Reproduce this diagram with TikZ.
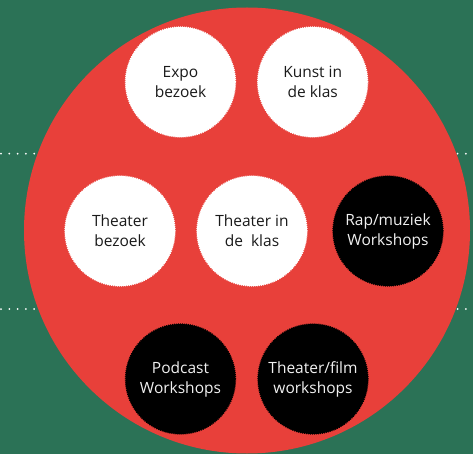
\documentclass[tikz,border=0pt]{standalone}
\usepackage{fontspec}
\setmainfont{Open Sans}
\definecolor{bggreen}{HTML}{2B7256}
\definecolor{bigred}{HTML}{E8403A}
\definecolor{darktext}{HTML}{1A1A1A}
\definecolor{lighttext}{HTML}{F0F0F0}
\begin{document}
\begin{tikzpicture}[x=1pt,y=-1pt,
  bubble/.style={circle, minimum size=110pt, inner sep=0pt, align=center,
    font=\fontsize{15.5pt}{20pt}\selectfont, line width=1.3pt,
    dash pattern=on 1pt off 1pt},
  lightbubble/.style={bubble, fill=white, draw=white, text=darktext},
  darkbubble/.style={bubble, fill=black, draw=black, text=lighttext},
  dotline/.style={white, line width=2pt, line cap=round, dash pattern=on 0pt off 8.3pt}
]
\fill[bggreen] (0,0) rectangle (473,454);
\useasboundingbox (0,0) rectangle (473,454);
\coordinate (l1) at (1,153.7);
\coordinate (r1) at (473,153.7);
\coordinate (l2) at (1,309);
\coordinate (r2) at (473,309);
\draw[dotline] (l1) -- (r1);
\draw[dotline] (l2) -- (r2);
\node[circle, fill=bigred, minimum size=446pt, inner sep=0pt] (big) at (247,230.5) {};
\node[lightbubble] (expo) at (180.5,82) {Expo\\bezoek};
\node[lightbubble] (kunst) at (312.7,82) {Kunst in\\de klas};
\node[lightbubble] (tbez) at (120,231) {Theater\\bezoek};
\node[lightbubble] (tklas) at (252,231) {Theater in\\de~~klas};
\node[darkbubble] (rap) at (388,231) {Rap/muziek\\Workshops};
\node[darkbubble] (pod) at (180.5,379) {Podcast\\Workshops};
\node[darkbubble] (film) at (313,379) {Theater/film\\workshops};
\end{tikzpicture}
\end{document}
